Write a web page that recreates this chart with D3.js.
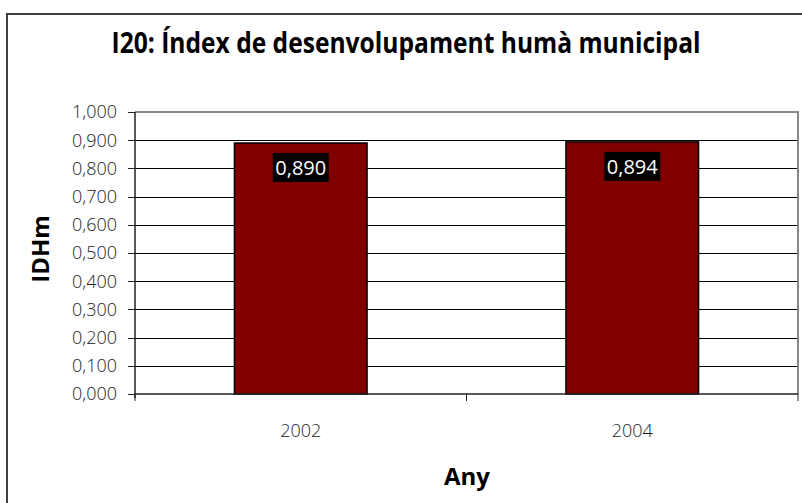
<!DOCTYPE html>
<meta charset="utf-8">
<style>
    body { margin: 0; background: #fff; }
    svg { display: block; }
    text { font-family: "Open Sans", sans-serif; }
    .tick-label { font-size: 18px; font-weight: 300; fill: #222; }
</style>
<body>
<svg width="802" height="503"></svg>
<script src="https://d3js.org/d3.v7.min.js"></script>
<script>
    var years = ["2002", "2004"];
    var values = [0.890, 0.894];
    var yTicks = [0, 0.1, 0.2, 0.3, 0.4, 0.5, 0.6, 0.7, 0.8, 0.9, 1.0];

    var svg = d3.select("svg");
    var plotLeft = 135, plotRight = 798, plotTop = 112, plotBottom = 394;

    var fmt = function(v) { return d3.format(".3f")(v).replace(".", ","); };

    var x = d3.scaleBand().domain(years).range([plotLeft, plotRight]).paddingInner(0.6).paddingOuter(0.3);
    var xCat = d3.scaleBand().domain(years).range([plotLeft, plotRight]);
    var y = d3.scaleLinear().domain([0, 1]).range([plotBottom, plotTop]);

    // chart border
    svg.append("rect")
        .attr("x", 7).attr("y", 14).attr("width", 900).attr("height", 600)
        .attr("fill", "white").attr("stroke", "#404040").attr("stroke-width", 2);

    // title
    svg.append("text")
        .attr("x", 406).attr("y", 53)
        .attr("text-anchor", "middle")
        .attr("textLength", 589).attr("lengthAdjust", "spacingAndGlyphs")
        .style("font-size", "28px").style("font-weight", "bold")
        .text("I20: Índex de desenvolupament humà municipal");

    // gridlines
    svg.append("g").selectAll("line")
        .data(yTicks.filter(function(d) { return d > 0 && d < 1; }))
        .enter().append("line")
        .attr("x1", plotLeft).attr("x2", plotRight)
        .attr("y1", function(d) { return Math.round(y(d)) + 0.5; })
        .attr("y2", function(d) { return Math.round(y(d)) + 0.5; })
        .attr("stroke", "#000").attr("stroke-width", 1);

    // plot area border (top and right)
    svg.append("path")
        .attr("d", "M" + plotLeft + "," + plotTop + "H" + plotRight + "V" + plotBottom)
        .attr("fill", "none").attr("stroke", "#888").attr("stroke-width", 2);

    // bars
    svg.append("g").selectAll("rect")
        .data(values)
        .enter().append("rect")
        .attr("x", function(d, i) { return x(years[i]); })
        .attr("width", x.bandwidth())
        .attr("y", function(d) { return y(d); })
        .attr("height", function(d) { return y(0) - y(d); })
        .attr("fill", "#800000").attr("stroke", "#000").attr("stroke-width", 1.5);

    // value labels
    var lab = svg.append("g").selectAll("g")
        .data(values)
        .enter().append("g")
        .attr("transform", function(d, i) {
            return "translate(" + (x(years[i]) + x.bandwidth() / 2) + "," + (y(d) + 25) + ")";
        });
    lab.append("rect")
        .attr("x", -28).attr("y", -15).attr("width", 56).attr("height", 29)
        .attr("fill", "#000");
    lab.append("text")
        .attr("text-anchor", "middle").attr("dy", "0.35em")
        .style("font-size", "20px").attr("fill", "#fff")
        .text(function(d) { return fmt(d); });

    // y axis
    var yAxis = svg.append("g");
    yAxis.append("line")
        .attr("x1", plotLeft).attr("x2", plotLeft).attr("y1", plotTop).attr("y2", plotBottom + 4)
        .attr("stroke", "#222").attr("stroke-width", 1.5);
    yAxis.selectAll(".yt").data(yTicks).enter().append("line")
        .attr("x1", plotLeft - 7).attr("x2", plotLeft)
        .attr("y1", function(d) { return Math.round(y(d)) + 0.5; })
        .attr("y2", function(d) { return Math.round(y(d)) + 0.5; })
        .attr("stroke", "#222").attr("stroke-width", 1);
    yAxis.selectAll(".yl").data(yTicks).enter().append("text")
        .attr("class", "tick-label")
        .attr("x", 117).attr("y", function(d) { return y(d); })
        .attr("dy", "0.35em").attr("text-anchor", "end")
        .text(function(d) { return fmt(d); });

    // x axis
    var xAxis = svg.append("g");
    xAxis.append("line")
        .attr("x1", plotLeft).attr("x2", plotRight).attr("y1", plotBottom).attr("y2", plotBottom)
        .attr("stroke", "#222").attr("stroke-width", 1.5);
    var xTickPos = [plotLeft, plotLeft + xCat.bandwidth(), plotRight];
    xAxis.selectAll(".xt").data(xTickPos).enter().append("line")
        .attr("x1", function(d) { return d; }).attr("x2", function(d) { return d; })
        .attr("y1", plotBottom).attr("y2", plotBottom + 7)
        .attr("stroke", "#222").attr("stroke-width", 1);
    xAxis.selectAll(".xl").data(years).enter().append("text")
        .attr("class", "tick-label")
        .attr("x", function(d) { return xCat(d) + xCat.bandwidth() / 2; })
        .attr("y", 437).attr("text-anchor", "middle")
        .text(function(d) { return d; });

    // axis titles
    svg.append("text")
        .attr("x", 467).attr("y", 485).attr("text-anchor", "middle")
        .style("font-size", "24px").style("font-weight", "bold")
        .text("Any");
    svg.append("text")
        .attr("transform", "translate(49,249) rotate(-90)")
        .attr("text-anchor", "middle")
        .style("font-size", "24px").style("font-weight", "bold")
        .text("IDHm");
</script>
</body>
